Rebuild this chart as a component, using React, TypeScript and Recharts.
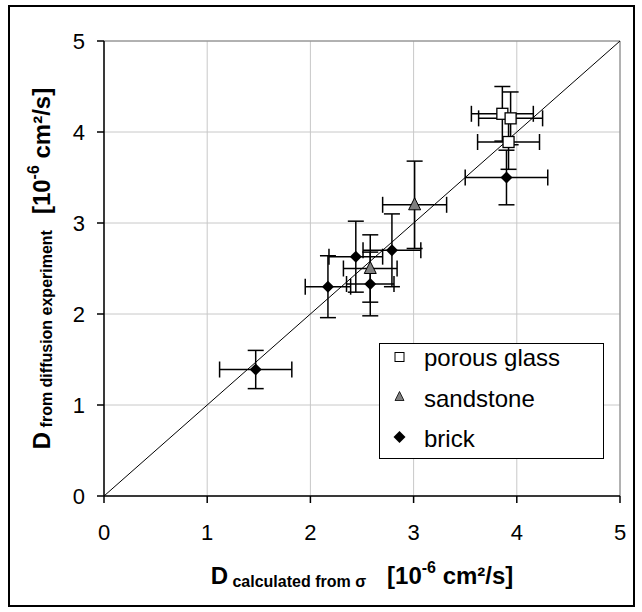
import {
  ScatterChart,
  Scatter,
  XAxis,
  YAxis,
  CartesianGrid,
  ErrorBar,
  ReferenceLine,
  Legend,
  Label,
} from 'recharts';

// porous glass
const glassX = [3.86, 3.94, 3.92];
const glassY = [4.2, 4.15, 3.89];
const glassXErr = [0.3, 0.31, 0.3];
const glassYErr = [0.3, 0.29, 0.3];

// sandstone
const sandX = [3.01, 2.58];
const sandY = [3.2, 2.5];
const sandXErr = [0.31, 0.26];
const sandYErr = [0.48, 0.37];

// brick
const brickX = [1.47, 2.17, 2.44, 2.58, 2.79, 3.9];
const brickY = [1.39, 2.3, 2.63, 2.33, 2.7, 3.5];
const brickXErr = [0.35, 0.22, 0.26, 0.23, 0.28, 0.4];
const brickYErr = [0.21, 0.34, 0.39, 0.35, 0.4, 0.3];

const axisTicks = [0, 1, 2, 3, 4, 5];
const seriesNames = ['porous glass', 'sandstone', 'brick'];

const FONT = '"Liberation Sans", Arial, sans-serif';

const toRows = (xs: number[], ys: number[], exs: number[], eys: number[]) =>
  xs.map((x, i) => ({ x, y: ys[i], ex: exs[i], ey: eys[i] }));

const glassData = toRows(glassX, glassY, glassXErr, glassYErr);
const sandData = toRows(sandX, sandY, sandXErr, sandYErr);
const brickData = toRows(brickX, brickY, brickXErr, brickYErr);

const SquareMark = (p: any) => (
  <rect x={p.cx - 5.5} y={p.cy - 5.5} width={11} height={11} fill="#fff" stroke="#000" strokeWidth={1.3} />
);
const TriangleMark = (p: any) => (
  <path
    d={`M${p.cx},${p.cy - 7} L${p.cx + 6},${p.cy + 5} L${p.cx - 6},${p.cy + 5} Z`}
    fill="#808080"
    stroke="#000"
    strokeWidth={1}
  />
);
const DiamondMark = (p: any) => (
  <path
    d={`M${p.cx},${p.cy - 6} L${p.cx + 6},${p.cy} L${p.cx},${p.cy + 6} L${p.cx - 6},${p.cy} Z`}
    fill="#000"
  />
);

const XTitle = (props: any) => {
  const vb = props.viewBox;
  return (
    <text x={vb.x + vb.width / 2} y={vb.y + 88} textAnchor="middle" fontFamily={FONT} fontWeight="bold" fill="#000">
      <tspan fontSize={24}>D</tspan>
      <tspan fontSize={16} dy={3}> calculated from σ</tspan>
      <tspan fontSize={24} dy={-3} dx={21}>[10</tspan>
      <tspan fontSize={16} dy={-11}>-6</tspan>
      <tspan fontSize={24} dy={11}> cm²/s]</tspan>
    </text>
  );
};

const YTitle = (props: any) => {
  const vb = props.viewBox;
  const cx = 50;
  const cy = vb.y + vb.height / 2;
  return (
    <text
      x={cx}
      y={cy}
      transform={`rotate(-90, ${cx}, ${cy})`}
      textAnchor="middle"
      fontFamily={FONT}
      fontWeight="bold"
      fill="#000"
    >
      <tspan fontSize={24}>D</tspan>
      <tspan fontSize={16} dy={2}> from diffusion experiment</tspan>
      <tspan fontSize={24} dy={-2} dx={16}>[10</tspan>
      <tspan fontSize={16} dy={-11}>-6</tspan>
      <tspan fontSize={24} dy={11}> cm²/s]</tspan>
    </text>
  );
};

const LegendBox = () => (
  <div
    style={{
      width: 225,
      height: 116,
      border: '1.5px solid #000',
      boxSizing: 'border-box',
      background: '#fff',
    }}
  >
    <svg width={222} height={113} style={{ display: 'block' }}>
      <rect x={15} y={8.5} width={9} height={9} fill="#fff" stroke="#000" strokeWidth={1} />
      <path d="M19.5,47.5 L24,56.5 L15,56.5 Z" fill="#808080" stroke="#000" strokeWidth={0.8} />
      <path d="M19.5,87 L25.5,93 L19.5,99 L13.5,93 Z" fill="#000" />
      {seriesNames.map((n, i) => (
        <text key={n} x={44} y={22 + i * 40.5} fontSize={24} fontFamily={FONT} fill="#000">
          {n}
        </text>
      ))}
    </svg>
  </div>
);

export default function App() {
  return (
    <div style={{ position: 'absolute', left: 0, top: 0, width: 642, height: 612, background: '#fff' }}>
      <div
        style={{
          position: 'absolute',
          left: 8,
          top: 5,
          width: 627,
          height: 602,
          border: '2px solid #000',
          boxSizing: 'border-box',
        }}
      />
      <ScatterChart width={642} height={612} margin={{ top: 41, right: 22, bottom: 0, left: 0 }}>
        <CartesianGrid stroke="#c8c8c8" strokeWidth={1} />
        <XAxis
          type="number"
          dataKey="x"
          domain={[0, 5]}
          ticks={axisTicks}
          height={116}
          tickSize={7}
          tickMargin={21}
          axisLine={{ stroke: '#000', strokeWidth: 1.5 }}
          tickLine={{ stroke: '#000', strokeWidth: 1.5 }}
          tick={{ fontSize: 22, fill: '#000', fontFamily: FONT }}
        >
          <Label content={XTitle} />
        </XAxis>
        <YAxis
          type="number"
          dataKey="y"
          domain={[0, 5]}
          ticks={axisTicks}
          width={104}
          tickSize={7}
          tickMargin={12}
          axisLine={{ stroke: '#000', strokeWidth: 1.5 }}
          tickLine={{ stroke: '#000', strokeWidth: 1.5 }}
          tick={{ fontSize: 22, fill: '#000', fontFamily: FONT }}
        >
          <Label content={YTitle} />
        </YAxis>
        <ReferenceLine y={5} stroke="#808080" strokeWidth={1} />
        <ReferenceLine x={5} stroke="#808080" strokeWidth={1} />
        <ReferenceLine
          segment={[
            { x: 0, y: 0 },
            { x: 5, y: 5 },
          ]}
          stroke="#000"
          strokeWidth={1}
        />
        <Scatter name={seriesNames[0]} data={glassData} shape={SquareMark} isAnimationActive={false}>
          <ErrorBar dataKey="ex" direction="x" width={8} stroke="#000" strokeWidth={1.5} isAnimationActive={false} />
          <ErrorBar dataKey="ey" direction="y" width={8} stroke="#000" strokeWidth={1.5} isAnimationActive={false} />
        </Scatter>
        <Scatter name={seriesNames[1]} data={sandData} shape={TriangleMark} isAnimationActive={false}>
          <ErrorBar dataKey="ex" direction="x" width={8} stroke="#000" strokeWidth={1.5} isAnimationActive={false} />
          <ErrorBar dataKey="ey" direction="y" width={8} stroke="#000" strokeWidth={1.5} isAnimationActive={false} />
        </Scatter>
        <Scatter name={seriesNames[2]} data={brickData} shape={DiamondMark} isAnimationActive={false}>
          <ErrorBar dataKey="ex" direction="x" width={8} stroke="#000" strokeWidth={1.5} isAnimationActive={false} />
          <ErrorBar dataKey="ey" direction="y" width={8} stroke="#000" strokeWidth={1.5} isAnimationActive={false} />
        </Scatter>
        <Legend
          layout="vertical"
          align="center"
          verticalAlign="middle"
          content={LegendBox}
          wrapperStyle={{ left: 379, top: 343, width: 225, height: 116 }}
        />
      </ScatterChart>
    </div>
  );
}
